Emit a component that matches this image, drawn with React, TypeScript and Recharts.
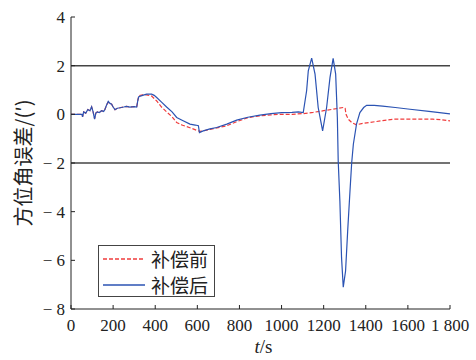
import { LineChart, Line, XAxis, YAxis, ReferenceLine, Legend } from 'recharts'

// azimuth error (arc-minutes) over time (s)
const beforeT = [
  0, 52, 55, 60, 70, 80, 90, 98, 105, 112, 118, 125, 134, 145, 155, 161, 170, 177, 185, 193, 200, 209, 220, 233,
  250, 264, 280, 300, 312, 318, 322, 340, 359, 383, 407, 430, 454, 480, 502, 530, 565, 595, 612, 628, 660, 692,
  740, 787, 840, 897, 950, 1000, 1050, 1103, 1150, 1200, 1245, 1293, 1302, 1306, 1317, 1335, 1356, 1380, 1420,
  1480, 1531, 1600, 1719, 1760, 1800,
]
const beforeV = [
  0, 0, -0.1, 0.1, 0.05, 0.2, 0.15, 0.3, 0.1, -0.18, 0.05, 0.1, 0.07, 0.15, 0.12, 0.2, 0.4, 0.5, 0.45, 0.42, 0.3,
  0.19, 0.25, 0.27, 0.3, 0.33, 0.3, 0.32, 0.3, 0.6, 0.77, 0.8, 0.8, 0.75, 0.55, 0.3, 0.1, -0.1, -0.34, -0.45,
  -0.55, -0.65, -0.7, -0.68, -0.62, -0.56, -0.47, -0.3, -0.14, -0.06, -0.02, 0, 0, 0.03, 0.08, 0.15, 0.21, 0.28,
  0.25, 0, -0.2, -0.35, -0.43, -0.38, -0.33, -0.26, -0.2, -0.2, -0.2, -0.22, -0.27,
]

const afterT = [
  0, 52, 55, 60, 70, 80, 90, 98, 105, 112, 118, 125, 134, 145, 155, 161, 170, 177, 185, 193, 200, 209, 220, 233,
  250, 264, 280, 300, 312, 318, 322, 340, 359, 383, 395, 407, 430, 454, 480, 502, 530, 565, 590, 605, 610, 628,
  660, 692, 740, 787, 840, 897, 950, 1000, 1050, 1080, 1103, 1119, 1127, 1143, 1159, 1174, 1195, 1214, 1230,
  1245, 1257, 1265, 1269, 1277, 1285, 1293, 1304, 1314, 1325, 1333, 1341, 1356, 1372, 1390, 1404, 1440, 1480,
  1540, 1610, 1700, 1760, 1800,
]
const afterV = [
  0, 0, -0.1, 0.1, 0.05, 0.2, 0.15, 0.31, 0.1, -0.2, 0.05, 0.1, 0.07, 0.15, 0.12, 0.2, 0.4, 0.53, 0.45, 0.42, 0.3,
  0.19, 0.25, 0.27, 0.3, 0.33, 0.3, 0.32, 0.3, 0.6, 0.72, 0.78, 0.83, 0.83, 0.78, 0.69, 0.5, 0.3, 0.1, -0.13,
  -0.25, -0.4, -0.44, -0.47, -0.75, -0.68, -0.6, -0.54, -0.4, -0.24, -0.12, -0.03, 0.03, 0.07, 0.08, 0.1, 0.07,
  0.97, 1.79, 2.31, 1.65, 0.28, -0.68, 0.28, 1.51, 2.3, 1.65, -0.13, -1.9, -3.56, -5.9, -7.1, -6.44, -4.8,
  -3.15, -2.0, -1.23, -0.4, 0.07, 0.28, 0.37, 0.37, 0.34, 0.28, 0.21, 0.12, 0.06, 0.02,
]

const xTicks = [0, 200, 400, 600, 800, 1000, 1200, 1400, 1600, 1800]
const yTicks = [-8, -6, -4, -2, 0, 2, 4]
const limits = [2, -2]

const beforeData = beforeT.map((t, i) => ({ t, v: beforeV[i] }))
const afterData = afterT.map((t, i) => ({ t, v: afterV[i] }))

const RED = '#f03c3c'
const BLUE = '#2b53b3'
const SERIF = 'Liberation Serif, Times New Roman, serif'
const CJK = 'Noto Sans CJK SC, sans-serif'
const tickFont = { fontSize: 17, fill: '#222', fontFamily: SERIF }

const fmtX = (v: number) => (v === 1800 ? '1 800' : String(v))
const fmtY = (v: number) => (v < 0 ? `\u2212 ${-v}` : String(v))
const blank = () => ''

const YLabel = ({ viewBox }: any) => {
  const x = viewBox.x + 11
  const y = viewBox.y + viewBox.height / 2
  return (
    <text x={x} y={y} transform={`rotate(-90, ${x}, ${y})`} textAnchor="middle" dominantBaseline="central"
      fontSize={20} fill="#222" fontFamily={CJK}>
      方位角误差/(′)
    </text>
  )
}

const XLabel = ({ viewBox }: any) => (
  <text x={viewBox.x + viewBox.width / 2 + 3} y={viewBox.y + 44} textAnchor="middle" fontSize={19} fill="#222"
    fontFamily={SERIF}>
    <tspan fontStyle="italic">t</tspan>/s
  </text>
)

const LegendBox = () => {
  const row = (color: string, dash: string | undefined, label: string) => (
    <div style={{ display: 'flex', alignItems: 'center', height: 26 }}>
      <svg width={44} height={10} style={{ marginRight: 4 }}>
        <line x1={0} y1={5} x2={42} y2={5} stroke={color} strokeWidth={1.3} strokeDasharray={dash} />
      </svg>
      <span style={{ fontFamily: CJK, fontSize: 19, color: '#222', lineHeight: '26px' }}>{label}</span>
    </div>
  )
  return (
    <div style={{ border: '1px solid #444', background: '#fff', boxSizing: 'border-box', width: 117, height: 52,
      padding: '0 0 0 4px' }}>
      {row(RED, '4 2', '补偿前')}
      {row(BLUE, undefined, '补偿后')}
    </div>
  )
}

export default function App() {
  return (
    <div style={{ position: 'absolute', left: 0, top: 0, width: 476, height: 360, background: '#fff' }}>
      <LineChart width={476} height={360} margin={{ top: 17, right: 26, bottom: 21, left: 11 }}>
        <XAxis dataKey="t" type="number" domain={[0, 1800]} ticks={xTicks} allowDataOverflow height={30}
          tickSize={-4} tickMargin={14} tick={tickFont} tickFormatter={fmtX} interval={0}
          axisLine={{ stroke: '#222' }} tickLine={{ stroke: '#222' }} label={<XLabel />} />
        <XAxis xAxisId="top" orientation="top" type="number" domain={[0, 1800]} ticks={xTicks} allowDataOverflow
          height={0} tickSize={-4} tickFormatter={blank} axisLine={{ stroke: '#222' }} tickLine={{ stroke: '#222' }} />
        <YAxis type="number" domain={[-8, 4]} ticks={yTicks} allowDataOverflow width={60} tickSize={-4}
          tickMargin={10} tick={tickFont} tickFormatter={fmtY} interval={0}
          axisLine={{ stroke: '#222' }} tickLine={{ stroke: '#222' }} label={<YLabel />} />
        <YAxis yAxisId="right" orientation="right" type="number" domain={[-8, 4]} ticks={yTicks} allowDataOverflow
          width={0} tickSize={-4} tickFormatter={blank} axisLine={{ stroke: '#222' }} tickLine={{ stroke: '#222' }} />
        {limits.map((y) => (
          <ReferenceLine key={y} y={y} stroke="#444" strokeWidth={1.5} />
        ))}
        <Legend layout="vertical" align="center" verticalAlign="middle" content={<LegendBox />}
          wrapperStyle={{ left: 98, top: 245, width: 117, height: 52 }} />
        <Line data={beforeData} dataKey="v" name="补偿前" type="linear" stroke={RED} strokeWidth={1.2}
          strokeDasharray="4 2" dot={false} isAnimationActive={false} />
        <Line data={afterData} dataKey="v" name="补偿后" type="linear" stroke={BLUE} strokeWidth={1.2}
          dot={false} isAnimationActive={false} />
      </LineChart>
    </div>
  )
}
